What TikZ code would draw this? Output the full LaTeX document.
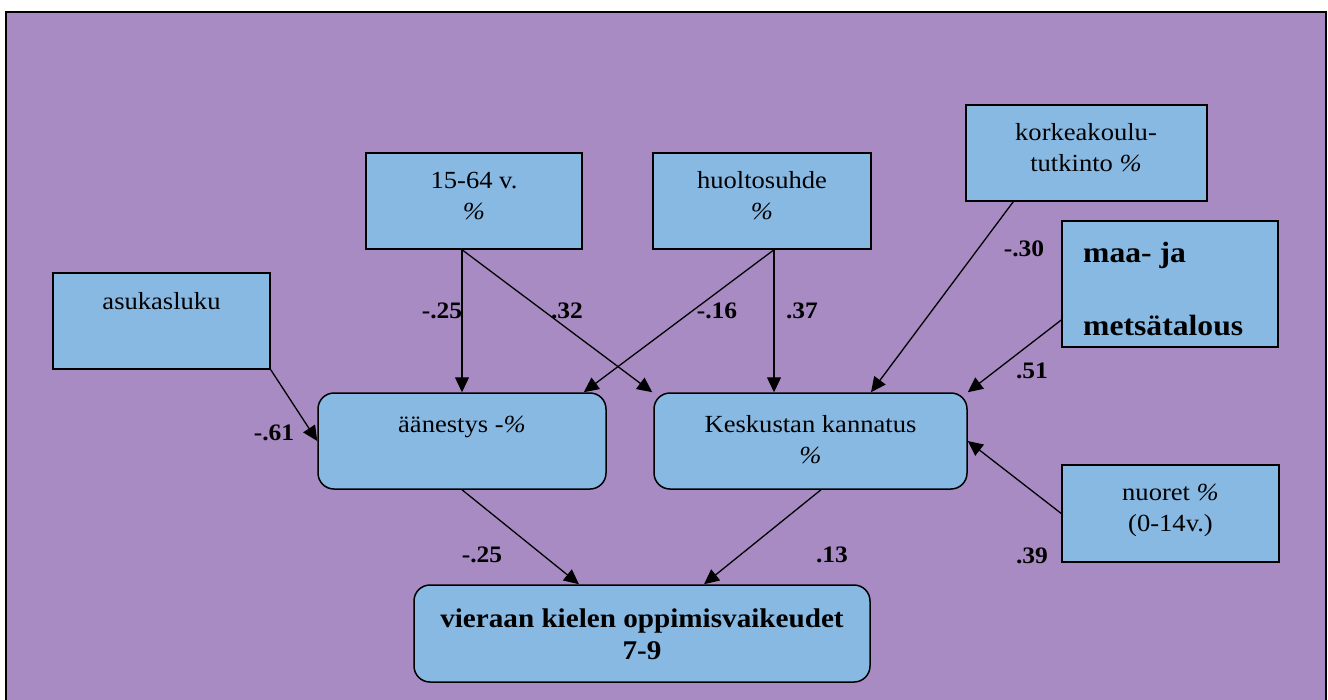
\documentclass[tikz,border=0pt]{standalone}
\usepackage{fontspec}
\setmainfont{Liberation Serif}[FakeStretch=1.08]
\usetikzlibrary{arrows.meta,calc}
\definecolor{panel}{RGB}{168,139,195}
\definecolor{boxfill}{RGB}{136,185,227}
% multi-line cell whose baseline is the first line
\newcommand{\ml}[1]{\begin{tabular}[t]{@{}c@{}}#1\end{tabular}}
% slanted percent sign
\newcommand{\pct}{\textit{\%}}

\tikzset{
  box/.style={draw=black, line width=1.5pt, fill=boxfill, inner sep=0pt},
  rbox/.style={box, rounded corners=16pt},
  txt/.style={inner sep=0pt, anchor=base, font=\fontsize{24.6}{31}\selectfont},
  coef/.style={inner sep=0pt, anchor=base, font=\fontsize{23.6}{28}\selectfont\bfseries},
  conn/.style={-{Triangle[length=15pt,width=14pt]}, line width=1.3pt},
}

\begin{document}
\begin{tikzpicture}[x=1pt, y=-1pt]
\useasboundingbox (0,0) rectangle (1328,699);
\fill[white] (0,0) rectangle (1328,699);

% background panel
\fill[panel] (6,12) rectangle (1326,720);
\draw[line width=2pt] (6,720) -- (6,12) -- (1326,12) -- (1326,720);

% boxes
\node[box, minimum width=216pt, minimum height=96pt] (age) at (474,201) {};
\node[box, minimum width=218pt, minimum height=96pt] (care) at (762,201) {};
\node[box, minimum width=241pt, minimum height=96pt] (edu) at (1086.5,153) {};
\node[box, minimum width=216pt, minimum height=126pt] (agri) at (1170,284) {};
\node[box, minimum width=217pt, minimum height=96pt] (pop) at (161.5,321) {};
\node[rbox, minimum width=288pt, minimum height=96pt] (vote) at (462,441) {};
\node[rbox, minimum width=313pt, minimum height=96pt] (kesk) at (810.5,441) {};
\node[box, minimum width=217pt, minimum height=97pt] (young) at (1170.5,513.5) {};
\node[rbox, minimum width=456pt, minimum height=97pt] (out) at (642,633.5) {};

% box texts
\node[txt] (ageT) at (474,188) {\ml{15-64 v.\\\pct}};
\node[txt] (careT) at (762,188) {\ml{huoltosuhde\\\pct}};
\node[txt] (eduT) at (1086,140) {\ml{korkeakoulu-\\tutkinto \pct}};
\node[txt, anchor=base west, font=\fontsize{29.3}{31}\selectfont\bfseries] (agriT) at (1083,262)
  {\begin{tabular}[t]{@{}l@{}}maa- ja\\[42pt]metsätalous\end{tabular}};
\node[txt] (popT) at (161.5,309) {asukasluku};
\node[txt] (voteT) at (462,432) {äänestys -\pct};
\node[txt] (keskT) at (810.5,432) {\ml{Keskustan kannatus\\\pct}};
\node[txt] (youngT) at (1170.5,500) {\ml{nuoret \pct\\(0-14v.)}};
\node[txt, font=\fontsize{27}{32}\selectfont\bfseries] (outT) at (642,627)
  {\ml{vieraan kielen oppimisvaikeudet\\7-9}};

% connectors
\draw[conn] (pop.south east) -- (vote.west);
\draw[conn] ([xshift=-12pt]age.south) -- (vote.north);
\draw[conn] ([xshift=-12pt]age.south) -- ([xshift=-1pt]kesk.north west);
\draw[conn] ([xshift=12pt]care.south) -- ([xshift=-23pt]vote.north east);
\draw[conn] ([xshift=12pt]care.south) -- ([xshift=-36.5pt]kesk.north);
\draw[conn] ([xshift=48pt]edu.south west) -- ([xshift=60.5pt]kesk.north);
\draw[conn] ([yshift=-36pt]agri.west) -- (kesk.north east);
\draw[conn] (young.west) -- (kesk.east);
\draw[conn] (vote.south) -- ([xshift=-63pt]out.north);
\draw[conn] ([xshift=10.5pt]kesk.south) -- ([xshift=62pt]out.north);

% path coefficients
\node[coef] (cPop) at (274,440) {-.61};
\node[coef] (cAgeVote) at (442,318) {-.25};
\node[coef] (cAgeKesk) at (567,318) {.32};
\node[coef] (cCareVote) at (717,318) {-.16};
\node[coef] (cCareKesk) at (802,318) {.37};
\node[coef] (cEdu) at (1024,256) {-.30};
\node[coef] (cAgri) at (1032,378) {.51};
\node[coef] (cVoteOut) at (482,562) {-.25};
\node[coef] (cKeskOut) at (832,562) {.13};
\node[coef] (cYoung) at (1032,563) {.39};
\end{tikzpicture}
\end{document}
